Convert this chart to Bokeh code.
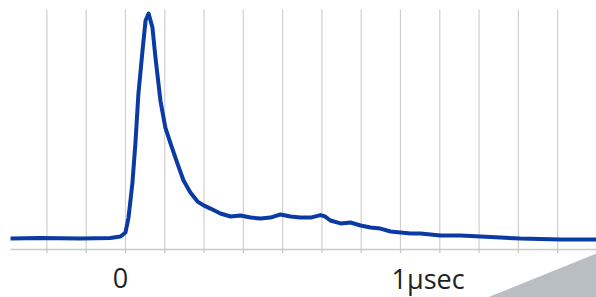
from bokeh.plotting import figure
from bokeh.models import Range1d
from bokeh.core.properties import value
from bokeh.embed import file_html
from bokeh.resources import INLINE

# ---- data (time in microseconds, normalized signal amplitude) ----
time_us = [-0.418, -0.309, -0.164, -0.055, -0.018, 0.0, 0.011, 0.025, 0.036, 0.047,
           0.062, 0.073, 0.084, 0.098, 0.109, 0.127, 0.145, 0.164, 0.189, 0.211,
           0.236, 0.262, 0.284, 0.309, 0.345, 0.382, 0.418, 0.455, 0.491, 0.527,
           0.564, 0.6, 0.636, 0.673, 0.709, 0.725, 0.745, 0.782, 0.818, 0.855,
           0.891, 0.927, 0.964, 1.0, 1.036, 1.073, 1.109, 1.145, 1.218, 1.291,
           1.364, 1.436, 1.582, 1.713]
signal = [0.0, 0.002, 0.0, 0.002, 0.009, 0.027, 0.093, 0.244, 0.422, 0.644,
          0.836, 0.969, 1.0, 0.938, 0.804, 0.613, 0.493, 0.422, 0.333, 0.258,
          0.204, 0.164, 0.147, 0.133, 0.111, 0.098, 0.102, 0.093, 0.089, 0.093,
          0.107, 0.098, 0.093, 0.093, 0.104, 0.098, 0.08, 0.067, 0.071, 0.058,
          0.049, 0.044, 0.031, 0.027, 0.022, 0.022, 0.018, 0.013, 0.013, 0.009,
          0.004, 0.0, -0.004, -0.004]

grid_ticks = [k / 7 for k in range(-2, 12)]
label_ticks = [0.0, 1.0]
label_texts = ["0", "1μsec"]

# ---- layout constants ----
X0, X1 = -0.4545, 1.7127
Y0, Y1 = -0.2622, 1.0578
AXIS_Y = -0.049
TICK_Y = -0.064
GRID_TOP = 1.018
LABEL_Y = -0.1756

p = figure(width=596, height=297, output_backend="svg", toolbar_location=None,
           x_range=Range1d(X0, X1), y_range=Range1d(Y0, Y1),
           x_axis_type=None, y_axis_type=None, min_border=0,
           background_fill_color="white", border_fill_color="white")
p.outline_line_color = None
p.xgrid.visible = False
p.ygrid.visible = False

# grid lines
p.segment(x0=grid_ticks, y0=[AXIS_Y] * len(grid_ticks), x1=grid_ticks,
          y1=[GRID_TOP] * len(grid_ticks), line_color="#cfcfcf", line_width=1.2)
# ticks
p.segment(x0=grid_ticks, y0=[AXIS_Y] * len(grid_ticks), x1=grid_ticks,
          y1=[TICK_Y] * len(grid_ticks), line_color="#c4c4c4", line_width=1.2)
# axis line
p.line(x=[-0.418, X1], y=[AXIS_Y, AXIS_Y], line_color="#c9c9c9", line_width=1.5)

# signal trace
p.line(x=time_us, y=signal, line_color="#0a3aa3", line_width=4, line_join="round")

# labels
p.text(x=[label_ticks[0]], y=[LABEL_Y], text=[label_texts[0]], text_align="center",
       text_baseline="middle", x_offset=-5, text_font=value("Open Sans"),
       text_font_size="27px", text_color="#222222")
p.text(x=[label_ticks[1]], y=[LABEL_Y], text=[label_texts[1]], text_align="left",
       text_baseline="middle", x_offset=-9, text_font=value("Open Sans"),
       text_font_size="27px", text_color="#222222")

# corner decoration
p.patch(x=[1.316, X1, X1], y=[Y0, Y0, -0.0667], fill_color="#b8bec1", line_color=None)

open("out.html", "w").write(file_html(p, INLINE))
